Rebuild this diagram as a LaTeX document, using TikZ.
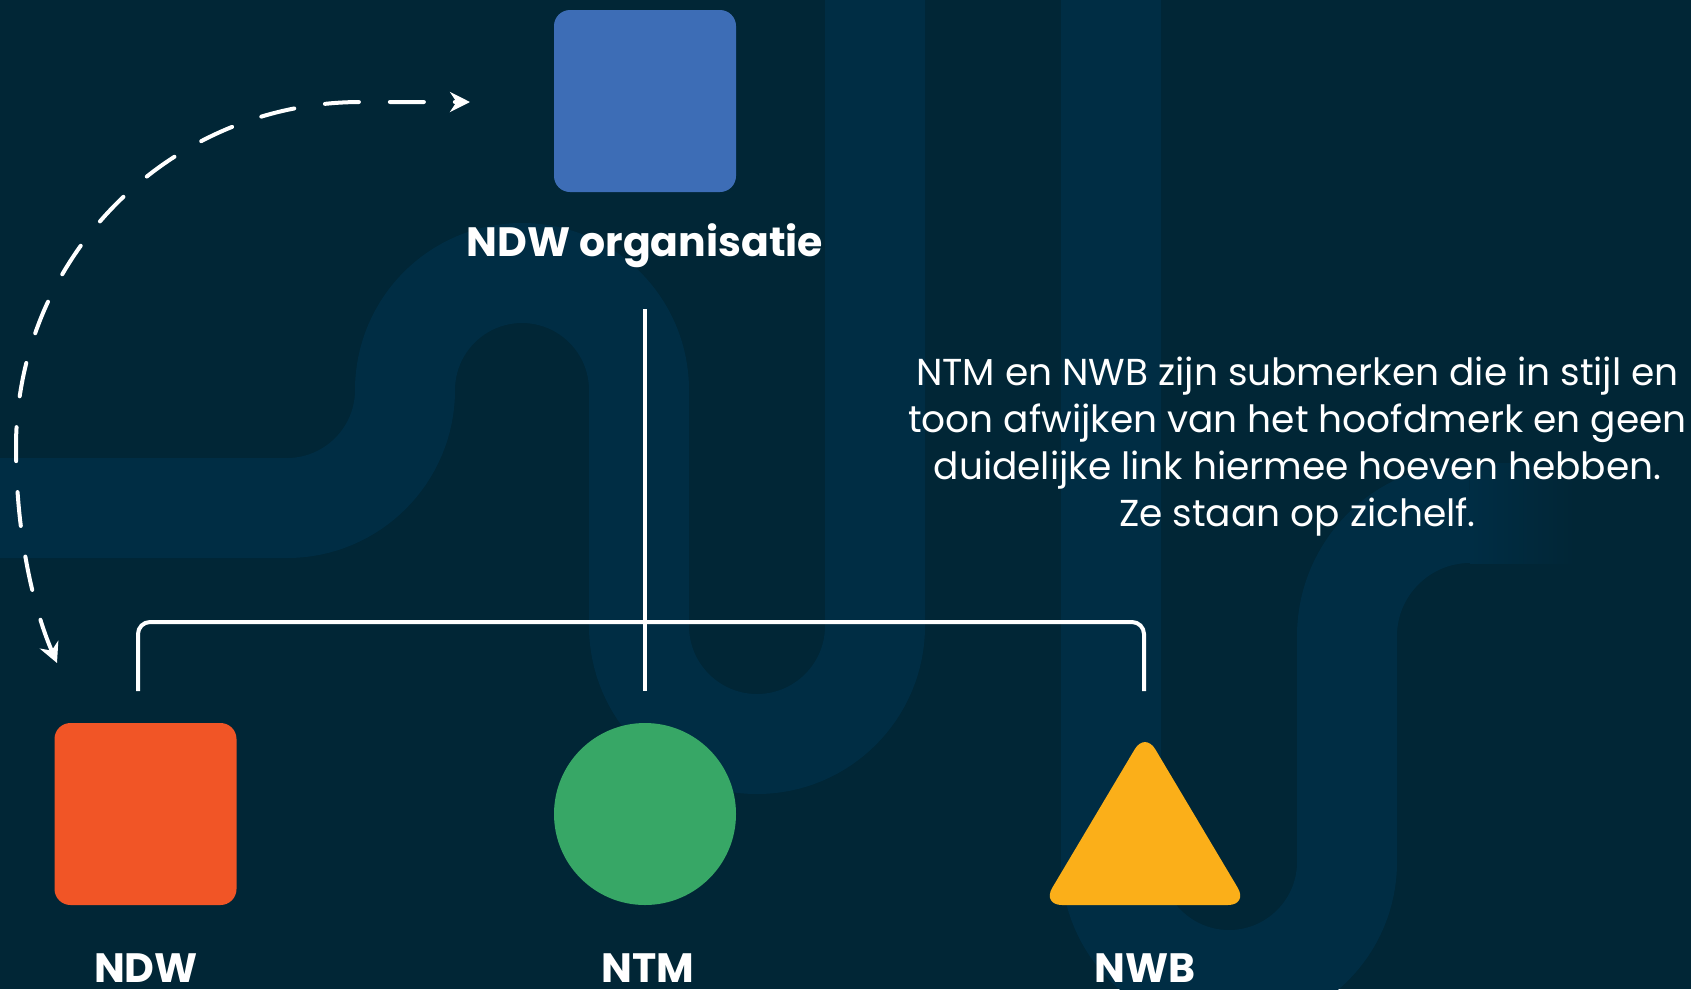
\documentclass[tikz,border=0pt]{standalone}
\usepackage{fontspec}
\setmainfont{Poppins}
\usetikzlibrary{arrows.meta}

\definecolor{bgnavy}{HTML}{012636}
\definecolor{pipeblue}{HTML}{002D44}
\definecolor{orgblue}{HTML}{3D6DB6}
\definecolor{ndwred}{HTML}{F15526}
\definecolor{ntmgreen}{HTML}{37A766}
\definecolor{nwbyellow}{HTML}{FBAF19}

\tikzset{
  pipe/.style={draw=pipeblue, line width=100pt},
  shapebox/.style={minimum size=182pt, inner sep=0pt, rounded corners=16pt},
  brand/.style={font=\fontsize{41}{50}\selectfont\bfseries, text=white, inner sep=0pt, anchor=base},
  body/.style={font=\fontsize{37.5}{47}\selectfont, text=white, inner sep=0pt, align=center, anchor=base},
  link/.style={draw=white, line width=4pt},
  dashlink/.style={draw=white, line width=4pt, line cap=round, dash pattern=on 34pt off 31pt,
    {Stealth[length=20pt,width=20pt]}-{Stealth[length=20pt,width=20pt]}}
}

\begin{document}
\begin{tikzpicture}[x=1pt,y=-1pt]
  \useasboundingbox (0,0) rectangle (1691,989);
  \clip (0,0) rectangle (1691,989);
  \fill[bgnavy] (0,0) rectangle (1691,989);

  % background pipes
  \draw[pipe] (-60,508) -- (287,508) arc[start angle=90, end angle=0, radius=118]
    arc[start angle=180, end angle=360, radius=117] -- (639,626)
    arc[start angle=180, end angle=0, radius=118] -- (875,-60);
  \draw[pipe] (1111,-60) -- (1111,862) arc[start angle=180, end angle=0, radius=118]
    -- (1347,636) arc[start angle=180, end angle=270, radius=123];
  \shade[left color=pipeblue, right color=bgnavy] (1470,463) rectangle (1575,563);

  % brands
  \node[shapebox, fill=orgblue] (org) at (645,101) {};
  \node[brand] (orglabel) at (645,256) {NDW organisatie};
  \node[shapebox, fill=ndwred] (ndw) at (145.5,814) {};
  \node[shapebox, circle, fill=ntmgreen] (ntm) at (645,814) {};
  \coordinate (nwb) at (1145,732);
  \fill[nwbyellow, rounded corners=20pt] (nwb) -- (1248,905) -- (1042,905) -- cycle;

  \node[brand] (ndwlabel) at (146,982) {NDW};
  \node[brand] (ntmlabel) at (648,982) {NTM};
  \node[brand] (nwblabel) at (1145,982) {NWB};

  % tree
  \coordinate (split) at (645,622);
  \coordinate (ndwend) at (138,691);
  \coordinate (nwbend) at (1144,691);
  \draw[link] ([yshift=-42pt]orglabel.south) -- ([yshift=32pt]ntm.north);
  \draw[link, rounded corners=12pt] (ndwend) |- (split) -| (nwbend);

  % dashed arrow
  \coordinate (orgtip) at (470,102);
  \coordinate (ndwtip) at (57,663);
  \draw[dashlink] (ndwtip) .. controls (32,605) and (16,530) .. (16,447)
    arc[start angle=180, end angle=270, radius=345] -- (orgtip);

  \node[body] (note) at (1297.5,526) {NTM en NWB zijn submerken die in stijl en\\
    toon afwijken van het hoofdmerk en geen\\
    duidelijke link hiermee hoeven hebben.\\
    Ze staan op zichelf.};
\end{tikzpicture}
\end{document}
